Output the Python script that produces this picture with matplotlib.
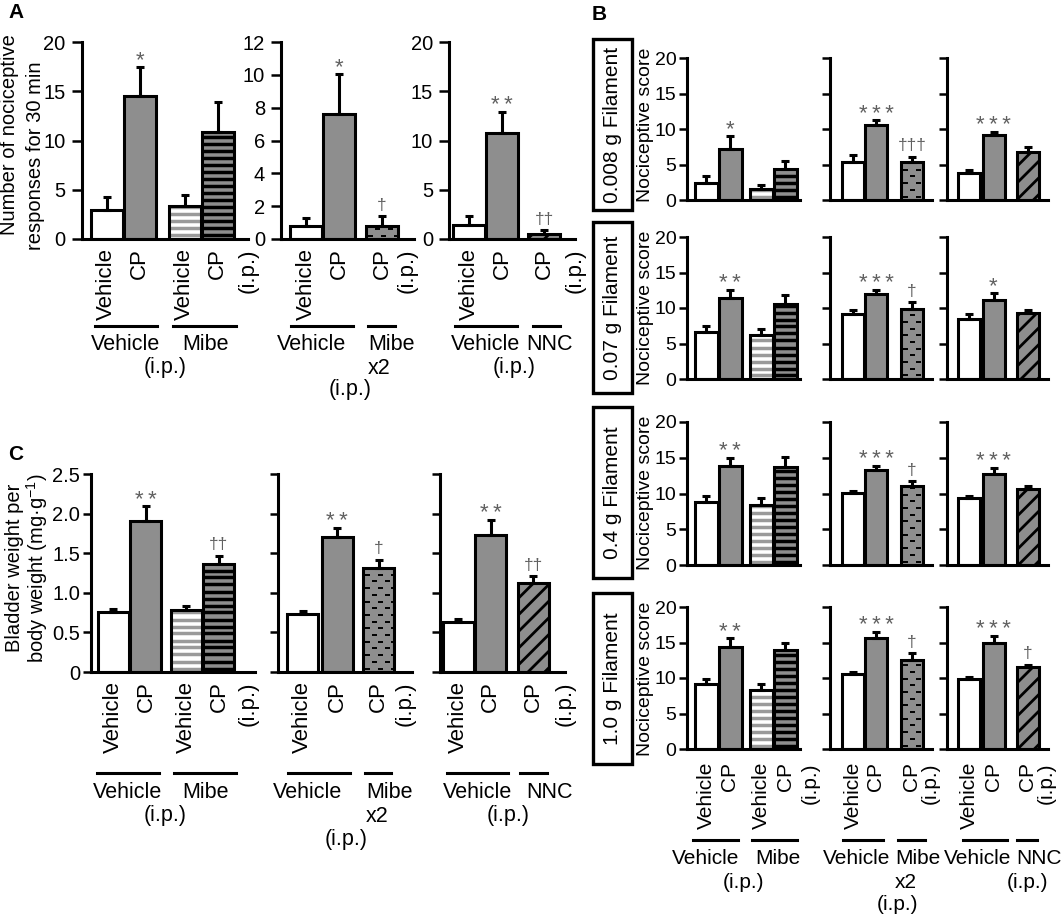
import matplotlib
matplotlib.use('Agg')
import matplotlib.pyplot as plt
from matplotlib.lines import Line2D
from matplotlib.patches import Rectangle
import numpy as np

plt.rcParams['font.family'] = ['Liberation Sans', 'DejaVu Sans']
plt.rcParams['mathtext.fontset'] = 'custom'
plt.rcParams['mathtext.rm'] = 'Liberation Sans'
plt.rcParams['mathtext.it'] = 'Liberation Sans:italic'
plt.rcParams['hatch.linewidth'] = 2.0

# ---------------- data ----------------
# Panel A: number of nociceptive responses for 30 min
a_mibe_mean = [2.95, 14.5, 3.3, 10.9]
a_mibe_err = [1.3, 2.95, 1.2, 3.0]
a_mibe_sig = ['', '*', '', '']
a_mibe2_mean = [0.8, 7.6, 0.8]
a_mibe2_err = [0.45, 2.45, 0.6]
a_mibe2_sig = ['', '*', '†']
a_nnc_mean = [1.45, 10.8, 0.5]
a_nnc_err = [0.85, 2.1, 0.4]
a_nnc_sig = ['', '**', '††']

# Panel C: bladder weight per body weight (mg/g)
c_mibe_mean = [0.76, 1.91, 0.78, 1.36]
c_mibe_err = [0.03, 0.18, 0.05, 0.11]
c_mibe_sig = ['', '**', '', '††']
c_mibe2_mean = [0.73, 1.71, 1.31]
c_mibe2_err = [0.04, 0.11, 0.11]
c_mibe2_sig = ['', '**', '†']
c_nnc_mean = [0.63, 1.73, 1.12]
c_nnc_err = [0.04, 0.19, 0.09]
c_nnc_sig = ['', '**', '††']

# Panel B: nociceptive score per filament (rows) x experiment (columns)
filaments = ['0.008 g Filament', '0.07 g Filament', '0.4 g Filament', '1.0 g Filament']
b_mibe_mean = [[2.45, 7.2, 1.55, 4.3], [6.6, 11.4, 6.2, 10.5],
               [8.8, 13.8, 8.4, 13.7], [9.2, 14.3, 8.3, 13.9]]
b_mibe_err = [[0.95, 1.8, 0.55, 1.2], [0.9, 1.2, 0.9, 1.4],
              [0.9, 1.2, 1.0, 1.4], [0.7, 1.3, 0.9, 1.0]]
b_mibe_sig = [['', '*', '', ''], ['', '**', '', ''],
              ['', '**', '', ''], ['', '**', '', '']]
b_mibe2_mean = [[5.4, 10.6, 5.3], [9.2, 12.0, 9.8], [10.1, 13.3, 11.0], [10.6, 15.6, 12.6]]
b_mibe2_err = [[0.9, 0.6, 0.8], [0.5, 0.55, 1.0], [0.2, 0.6, 0.7], [0.2, 0.9, 0.9]]
b_mibe2_sig = [['', '***', '†††'], ['', '***', '†'], ['', '***', '†'], ['', '***', '†']]
b_nnc_mean = [[3.8, 9.1, 6.8], [8.4, 11.1, 9.3], [9.35, 12.7, 10.65], [9.9, 14.9, 11.5]]
b_nnc_err = [[0.4, 0.5, 0.7], [0.7, 1.0, 0.4], [0.35, 0.9, 0.45], [0.2, 1.0, 0.4]]
b_nnc_sig = [['', '***', ''], ['', '*', ''], ['', '***', ''], ['', '***', '†']]

mibe_kinds = ['veh', 'cp', 'mveh', 'mcp']
mibe2_kinds = ['veh', 'cp', 'm2cp']
nnc_kinds = ['veh', 'cp', 'ncp']
mibe_ticks = ['Vehicle', 'CP', 'Vehicle', 'CP']
three_ticks = ['Vehicle', 'CP', 'CP']

# ---------------- style / layout ----------------
W, H = 1063, 916
FS = 15.5       # group labels (A, C)
FS_B = 15       # group labels (B)
FS_YL = 14.5    # y labels
FS_ROT = 16     # rotated category labels (A, C)
FS_ROT_B = 15
GRAY = '#8e8e8e'
SIGC = '#606060'
fig = plt.figure(figsize=(W / 100, H / 100), dpi=100)


def add_ax(left, right, top, bottom, ymax, yticks, labels=True, ticklabels=None,
           tick_fs=14, pad=1.5, length=6):
    ax = fig.add_axes([left / W, 1 - bottom / H, (right - left) / W, (bottom - top) / H])
    ax.set_xlim(0, right - left)
    ax.set_ylim(0, ymax)
    for s in ['top', 'right']:
        ax.spines[s].set_visible(False)
    for s in ['left', 'bottom']:
        ax.spines[s].set_linewidth(2.2)
    ax.set_yticks(yticks)
    if labels:
        if ticklabels is not None:
            ax.set_yticklabels(ticklabels)
    else:
        ax.set_yticklabels([])
    ax.tick_params(axis='y', direction='out', length=length, width=1.8, labelsize=tick_fs, pad=pad)
    ax.set_xticks([])
    ax.patch.set_alpha(0)
    return ax


def to_data(ax, xs, ys):
    pts = ax.transData.inverted().transform(np.column_stack([xs, ys]))
    return pts[:, 0], pts[:, 1]


def draw_bar(ax, x, h, w, kind):
    face = 'white' if kind in ('veh', 'mveh') else GRAY
    if kind == 'ncp':
        base = ax.bar(x, h, w, color=face, edgecolor='black', linewidth=0, hatch='//', zorder=1)[0]
    else:
        base = ax.bar(x, h, w, color=face, linewidth=0, zorder=1)[0]
    (x0, y0), (x1, y1) = ax.transData.transform([(x - w / 2, 0), (x + w / 2, h)])
    if kind in ('mveh', 'mcp'):
        col = '#9a9a9a' if kind == 'mveh' else 'black'
        for yy in np.arange(y0 + 3.5, y1, 7.0):
            xs, ys = to_data(ax, [x0, x1], [yy, yy])
            ln, = ax.plot(xs, ys, color=col, lw=2.5, solid_capstyle='butt', zorder=2)
            ln.set_clip_path(base)
    if kind == 'm2cp':
        for i, yy in enumerate(np.arange(y0 + 3.5, y1, 6.7)):
            start = x0 + (2 if i % 2 == 0 else 8.5)
            for xd in np.arange(start, x1, 13):
                xs, ys = to_data(ax, [xd, xd + 5], [yy, yy])
                ln, = ax.plot(xs, ys, color='black', lw=1.4, solid_capstyle='butt', zorder=2)
                ln.set_clip_path(base)
    ax.bar(x, h, w, fill=False, edgecolor='black', linewidth=2.2, zorder=3)


def draw_panel(ax, xs, w, means, errs, sigs, kinds):
    for x, m, e, s, k in zip(xs, means, errs, sigs, kinds):
        draw_bar(ax, x, m, w, k)
        ax.errorbar(x, m, yerr=[[0], [e]], fmt='none', ecolor='black', elinewidth=2.2,
                    capsize=3, capthick=2.2, zorder=4)
        if s:
            if '*' in s:
                ax.annotate('\u2009'.join(s), xy=(x, m + e), xytext=(0, 0.5),
                            textcoords='offset points', ha='center', va='baseline',
                            fontsize=16, color=SIGC, zorder=5)
            else:
                ax.annotate(s, xy=(x, m + e), xytext=(0, 2.5), textcoords='offset points',
                            ha='center', va='bottom', fontsize=12.5, color=SIGC, zorder=5)


def bottom_labels(ax, xs, labels, ip_x, gap_pt, fs):
    for x, lab in list(zip(xs, labels)) + [(ip_x, '(i.p.)')]:
        ax.annotate(lab, xy=(x, 0), xycoords=('data', 'axes fraction'), xytext=(0, -gap_pt),
                    textcoords='offset points', rotation=90, ha='center', va='top',
                    fontsize=fs)


def ftext(x, y, s, **kw):
    kw.setdefault('ha', 'center')
    kw.setdefault('va', 'center')
    kw.setdefault('fontsize', FS)
    fig.text(x / W, 1 - y / H, s, **kw)


def fline(x0, x1, y):
    fig.add_artist(Line2D([x0 / W, x1 / W], [1 - y / H, 1 - y / H], transform=fig.transFigure,
                          color='black', lw=2.2))


def positions(start, pitch, gap, groups):
    out = []
    for gi, n in enumerate(groups):
        base = start + gi * gap + sum(groups[:gi]) * pitch
        out += [base + i * pitch for i in range(n)]
    return out


# ---------------- Panel A ----------------
ftext(8, 12, 'A', ha='left', fontsize=15, weight='bold')
ticksA = [0, 5, 10, 15, 20]
axA1 = add_ax(81.7, 248, 42, 239, 20, ticksA, tick_fs=14.5, pad=4, length=7.5)
xA1 = positions(25, 33, 12, [2, 2])
draw_panel(axA1, xA1, 32, a_mibe_mean, a_mibe_err, a_mibe_sig, mibe_kinds)
bottom_labels(axA1, xA1, mibe_ticks, 166, 6.5, FS_ROT)

axA2 = add_ax(281, 414, 42, 239, 12, [0, 2, 4, 6, 8, 10, 12], tick_fs=14.5, pad=4, length=7.5)
xA2 = positions(25, 33, 10, [2, 1])
draw_panel(axA2, xA2, 32, a_mibe2_mean, a_mibe2_err, a_mibe2_sig, mibe2_kinds)
bottom_labels(axA2, xA2, three_ticks, 126.6, 6.5, FS_ROT)

axA3 = add_ax(449, 575, 42, 239, 20, ticksA, tick_fs=14.5, pad=4, length=7.5)
xA3 = positions(20, 33, 9, [2, 1])
draw_panel(axA3, xA3, 32, a_nnc_mean, a_nnc_err, a_nnc_sig, nnc_kinds)
bottom_labels(axA3, xA3, three_ticks, 126, 6.5, FS_ROT)

ftext(10, 135, 'Number of nociceptive', rotation=90, fontsize=FS_YL)
ftext(36, 156, 'responses for 30 min', rotation=90, fontsize=FS_YL)

fline(95, 157, 326); fline(173, 236, 326)
ftext(126, 345, 'Vehicle'); ftext(206, 345, 'Mibe'); ftext(165, 368, '(i.p.)')
fline(291, 353, 326); fline(368, 395, 326)
ftext(312, 345, 'Vehicle'); ftext(391, 345, 'Mibe'); ftext(379, 368, 'x2'); ftext(350, 390, '(i.p.)')
fline(455, 517, 326); fline(533, 560, 326)
ftext(486, 345, 'Vehicle'); ftext(550, 345, 'NNC'); ftext(514, 368, '(i.p.)')

# ---------------- Panel C ----------------
ftext(8, 454, 'C', ha='left', fontsize=15, weight='bold')
ticksC = [0, 0.5, 1.0, 1.5, 2.0, 2.5]
axC1 = add_ax(91.4, 254.5, 474, 672, 2.5, ticksC,
              ticklabels=['0', '0.5', '1.0', '1.5', '2.0', '2.5'], tick_fs=14.5, pad=2)
xC1 = positions(22, 32.5, 8, [2, 2])
draw_panel(axC1, xC1, 31, c_mibe_mean, c_mibe_err, c_mibe_sig, mibe_kinds)
bottom_labels(axC1, xC1, mibe_ticks, 157, 6.5, FS_ROT)

axC2 = add_ax(277.6, 412, 474, 672, 2.5, ticksC, labels=False)
xC2 = positions(25, 34.5, 7, [2, 1])
draw_panel(axC2, xC2, 31, c_mibe2_mean, c_mibe2_err, c_mibe2_sig, mibe2_kinds)
bottom_labels(axC2, xC2, three_ticks, 127.6, 6.5, FS_ROT)

axC3 = add_ax(440, 565, 474, 672, 2.5, ticksC, labels=False)
xC3 = positions(18, 32.5, 10, [2, 1])
draw_panel(axC3, xC3, 31, c_nnc_mean, c_nnc_err, c_nnc_sig, nnc_kinds)
bottom_labels(axC3, xC3, three_ticks, 125, 6.5, FS_ROT)

ftext(15, 568, 'Bladder weight per', rotation=90, fontsize=FS_YL)
ftext(37, 568, 'body weight (mg·g$^{-1}$)', rotation=90, fontsize=FS_YL)

fline(96.6, 159.3, 773); fline(174, 236, 773)
ftext(127.6, 792, 'Vehicle'); ftext(206, 792, 'Mibe'); ftext(165, 816, '(i.p.)')
fline(288, 350, 773); fline(365, 391, 773)
ftext(308, 792, 'Vehicle'); ftext(389, 792, 'Mibe'); ftext(377.6, 816, 'x2'); ftext(346.6, 839, '(i.p.)')
fline(447, 508, 773); fline(520, 547, 773)
ftext(477.6, 792, 'Vehicle'); ftext(550, 792, 'NNC'); ftext(508.6, 816, '(i.p.)')

# ---------------- Panel B ----------------
ftext(592, 14, 'B', ha='left', fontsize=15, weight='bold')
rows = [(58, 200), (237, 379), (422, 565), (607, 749)]
boxes = [(39, 210), (222, 393), (407, 578), (593, 764)]
ticksB = [0, 5, 10, 15, 20]
for r, ((top, bot), (bt, bb)) in enumerate(zip(rows, boxes)):
    ax1 = add_ax(687, 800, top, bot, 20, ticksB, tick_fs=14)
    x1 = positions(19, 24, 7, [2, 2])
    draw_panel(ax1, x1, 23, b_mibe_mean[r], b_mibe_err[r], b_mibe_sig[r], mibe_kinds)
    ax2 = add_ax(830, 932, top, bot, 20, ticksB, labels=False)
    x2 = positions(23, 23, 13, [2, 1])
    draw_panel(ax2, x2, 22, b_mibe2_mean[r], b_mibe2_err[r], b_mibe2_sig[r], mibe2_kinds)
    ax3 = add_ax(947, 1048, top, bot, 20, ticksB, labels=False)
    x3 = positions(22, 24.5, 10, [2, 1])
    draw_panel(ax3, x3, 22, b_nnc_mean[r], b_nnc_err[r], b_nnc_sig[r], nnc_kinds)
    fig.add_artist(Rectangle((593 / W, 1 - bb / H), (632 - 593) / W, (bb - bt) / H,
                             transform=fig.transFigure, fill=False, lw=2.4, edgecolor='black'))
    ftext(612.5, (bt + bb) / 2, filaments[r], rotation=90, fontsize=15)
    ftext(645, (bt + bb) / 2, 'Nociceptive score', rotation=90, fontsize=14)
    if r == len(rows) - 1:
        bottom_labels(ax1, x1, mibe_ticks, 123, 9.4, FS_ROT_B)
        bottom_labels(ax2, x2, three_ticks, 100.5, 9.4, FS_ROT_B)
        bottom_labels(ax3, x3, three_ticks, 99.5, 9.4, FS_ROT_B)

fline(693, 738, 840); fline(752, 797, 840)
ftext(706, 858, 'Vehicle', fontsize=FS_B); ftext(778, 858, 'Mibe', fontsize=FS_B)
ftext(743, 883, '(i.p.)', fontsize=FS_B)
fline(843, 883, 840); fline(898, 925, 840)
ftext(857, 858, 'Vehicle', fontsize=FS_B); ftext(918, 858, 'Mibe', fontsize=FS_B)
ftext(906, 883, 'x2', fontsize=FS_B); ftext(898, 905, '(i.p.)', fontsize=FS_B)
fline(963, 1007, 840); fline(1017, 1037, 840)
ftext(978, 858, 'Vehicle', fontsize=FS_B); ftext(1062, 858, 'NNC', ha='right', fontsize=FS_B)
ftext(1028, 883, '(i.p.)', fontsize=FS_B)

fig.savefig('out.png', dpi=100)
